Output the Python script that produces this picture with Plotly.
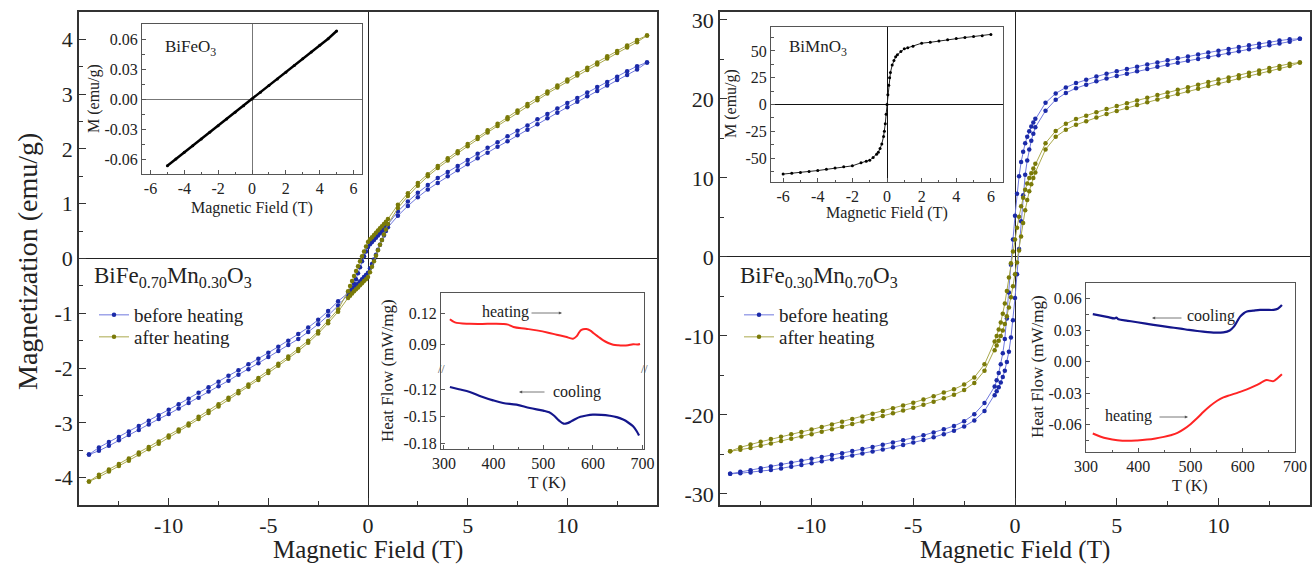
import plotly.graph_objects as go

W, H = 1315, 568
FONT = "Liberation Serif"


def fx(p):
    return p / W


def fy(p):
    return 1 - p / H


# ---------------- field sweep (T), descending branch order ----------------
H_DOWN = [14.0, 13.5, 13.0, 12.5, 12.0, 11.5, 11.0, 10.5, 10.0, 9.5, 9.0, 8.5, 8.0, 7.5,
          7.0, 6.5, 6.0, 5.5, 5.0, 4.5, 4.0, 3.5, 3.0, 2.5, 2.0, 1.5, 1.0,
          0.9, 0.8, 0.7, 0.6, 0.5, 0.4, 0.3, 0.2, 0.1, 0.0, -0.1, -0.2, -0.3, -0.4, -0.5,
          -0.6, -0.7, -0.8, -0.9,
          -1.0, -1.5, -2.0, -2.5, -3.0, -3.5, -4.0, -4.5, -5.0, -5.5, -6.0, -6.5, -7.0,
          -7.5, -8.0, -8.5, -9.0, -9.5, -10.0, -10.5, -11.0, -11.5, -12.0, -12.5, -13.0,
          -13.5, -14.0]

# BiFe0.70Mn0.30O3 : magnetization on the descending (DOWN) and ascending (UP) branches,
# both listed at the fields of H_DOWN
L_BLUE_DOWN = [3.58, 3.51, 3.42, 3.32, 3.22, 3.13, 3.03, 2.93, 2.84, 2.74, 2.64, 2.54, 2.43, 2.33,
               2.23, 2.12, 2.02, 1.91, 1.80, 1.69, 1.58, 1.47, 1.34, 1.20, 1.04, 0.86, 0.62,
               0.58, 0.54, 0.50, 0.46, 0.42, 0.38, 0.34, 0.30, 0.26, 0.21, 0.13, 0.04, -0.05,
               -0.16, -0.27, -0.38, -0.46, -0.53, -0.59,
               -0.63, -0.78, -0.96, -1.12, -1.26, -1.38, -1.50, -1.61, -1.72, -1.83, -1.93,
               -2.04, -2.14, -2.25, -2.35, -2.45, -2.56, -2.66, -2.76, -2.86, -2.96, -3.06,
               -3.16, -3.26, -3.35, -3.45, -3.58]
L_BLUE_UP = [3.58, 3.45, 3.35, 3.26, 3.16, 3.06, 2.96, 2.86, 2.76, 2.66, 2.56, 2.45, 2.35, 2.25,
             2.14, 2.04, 1.93, 1.83, 1.72, 1.61, 1.50, 1.38, 1.26, 1.12, 0.96, 0.78, 0.57,
             0.50, 0.42, 0.34, 0.25, 0.16, 0.07, -0.02, -0.10, -0.18, -0.26, -0.30, -0.34, -0.38,
             -0.42, -0.46, -0.50, -0.54, -0.58, -0.62,
             -0.66, -0.86, -1.04, -1.20, -1.34, -1.47, -1.58, -1.69, -1.80, -1.91, -2.02,
             -2.12, -2.23, -2.33, -2.43, -2.54, -2.64, -2.74, -2.84, -2.93, -3.03, -3.13,
             -3.22, -3.32, -3.42, -3.51, -3.58]
L_OLIVE_DOWN = [4.07, 3.99, 3.89, 3.79, 3.69, 3.58, 3.48, 3.38, 3.27, 3.16, 3.05, 2.93, 2.82, 2.70,
                2.58, 2.46, 2.34, 2.22, 2.09, 1.96, 1.83, 1.69, 1.54, 1.38, 1.19, 0.98, 0.72,
                0.67, 0.63, 0.59, 0.55, 0.51, 0.47, 0.43, 0.39, 0.35, 0.30, 0.22, 0.13, 0.04,
                -0.05, -0.14, -0.23, -0.32, -0.41, -0.50,
                -0.60, -0.93, -1.14, -1.33, -1.50, -1.65, -1.79, -1.92, -2.05, -2.18, -2.30,
                -2.42, -2.54, -2.66, -2.78, -2.89, -3.01, -3.12, -3.23, -3.34, -3.44, -3.54,
                -3.65, -3.75, -3.85, -3.95, -4.07]
L_OLIVE_UP = [4.07, 3.95, 3.85, 3.75, 3.65, 3.54, 3.44, 3.34, 3.23, 3.12, 3.01, 2.89, 2.78, 2.66,
              2.54, 2.42, 2.30, 2.18, 2.05, 1.92, 1.79, 1.65, 1.50, 1.33, 1.14, 0.92, 0.63,
              0.53, 0.44, 0.34, 0.25, 0.15, 0.05, -0.05, -0.15, -0.25, -0.34, -0.38, -0.41, -0.45,
              -0.49, -0.53, -0.56, -0.60, -0.64, -0.68,
              -0.72, -0.97, -1.18, -1.37, -1.54, -1.69, -1.83, -1.96, -2.09, -2.22, -2.34,
              -2.46, -2.58, -2.70, -2.82, -2.93, -3.05, -3.16, -3.27, -3.38, -3.48, -3.58,
              -3.69, -3.79, -3.89, -3.99, -4.07]

# BiFe0.30Mn0.70O3
R_BLUE_DOWN = [27.60, 27.55, 27.38, 27.18, 26.98, 26.78, 26.56, 26.33, 26.10, 25.86, 25.62, 25.38,
               25.14, 24.88, 24.62, 24.36, 24.08, 23.80, 23.50, 23.18, 22.83, 22.44, 22.00, 21.45,
               20.70, 19.50, 17.50,
               17.0, 16.5, 15.9, 15.2, 14.4, 13.3, 12.0, 10.2, 8.0, 5.2, 2.2, -1.0, -4.5, -7.8,
               -10.4, -12.2, -13.6, -14.7, -15.6,
               -16.4, -18.5, -19.9, -20.8, -21.4, -21.82, -22.22, -22.58, -22.90, -23.20, -23.50,
               -23.78, -24.06, -24.32, -24.58, -24.84, -25.08, -25.32, -25.56, -25.80, -26.04,
               -26.28, -26.52, -26.76, -27.00, -27.20, -27.45]
R_BLUE_UP = [27.60, 27.25, 27.02, 26.78, 26.54, 26.28, 26.04, 25.79, 25.54, 25.30, 25.06, 24.82,
             24.58, 24.32, 24.06, 23.78, 23.50, 23.20, 22.90, 22.58, 22.22, 21.80, 21.36, 20.75,
             19.90, 18.50, 16.40,
             15.6, 14.7, 13.6, 12.2, 10.4, 7.8, 4.5, 1.0, -2.2, -5.2, -8.0, -10.2, -12.0, -13.3,
             -14.4, -15.2, -15.9, -16.5, -17.0,
             -17.5, -19.5, -20.7, -21.45, -22.0, -22.44, -22.83, -23.18, -23.50, -23.80, -24.08,
             -24.36, -24.62, -24.88, -25.14, -25.38, -25.62, -25.86, -26.10, -26.33, -26.56,
             -26.78, -26.98, -27.10, -27.28, -27.38, -27.45]
R_OLIVE_DOWN = [24.60, 24.45, 24.18, 23.90, 23.60, 23.30, 23.00, 22.72, 22.45, 22.13, 21.80, 21.48,
                21.15, 20.82, 20.50, 20.15, 19.80, 19.45, 19.10, 18.72, 18.32, 17.88, 17.45, 16.85,
                15.95, 14.40, 11.80,
                11.2, 10.6, 10.0, 9.3, 8.5, 7.5, 6.4, 5.1, 3.7, 2.2, 0.7, -0.8, -2.6, -4.3,
                -5.9, -7.2, -8.3, -9.2, -10.0,
                -10.7, -13.6, -15.25, -16.15, -16.75, -17.17, -17.63, -18.05, -18.45, -18.80,
                -19.15, -19.50, -19.85, -20.19, -20.53, -20.87, -21.20, -21.53, -21.85, -22.15,
                -22.45, -22.75, -23.05, -23.40, -23.75, -24.10, -24.60]
R_OLIVE_UP = [24.60, 24.15, 23.82, 23.50, 23.20, 22.90, 22.60, 22.28, 21.95, 21.63, 21.30, 20.96,
              20.62, 20.28, 19.92, 19.57, 19.22, 18.86, 18.48, 18.08, 17.65, 17.18, 16.72, 16.10,
              15.20, 13.60, 10.70,
              10.0, 9.2, 8.3, 7.2, 5.9, 4.3, 2.6, 0.8, -0.7, -2.2, -3.7, -5.1, -6.4, -7.5,
              -8.5, -9.3, -10.0, -10.6, -11.2,
              -11.8, -14.4, -15.95, -16.85, -17.45, -17.88, -18.32, -18.72, -19.10, -19.45,
              -19.80, -20.15, -20.50, -20.82, -21.15, -21.48, -21.80, -22.13, -22.45, -22.72,
              -23.00, -23.30, -23.60, -23.90, -24.18, -24.40, -24.60]

# parent compounds (insets)
BFO_H = [-5.0, -4.5, -4.0, -3.5, -3.0, -2.5, -2.0, -1.5, -1.0, -0.5, 0.0, 0.5, 1.0, 1.5, 2.0,
         2.5, 3.0, 3.5, 4.0, 4.5, 5.0]
BFO_M = [-0.0667, -0.0600, -0.0533, -0.0468, -0.0400, -0.0333, -0.0267, -0.0200, -0.0133,
         -0.0067, 0.0, 0.0067, 0.0134, 0.0201, 0.0268, 0.0336, 0.0403, 0.0470, 0.0537,
         0.0603, 0.0680]
BMO_H = [-6.0, -5.5, -5.0, -4.5, -4.0, -3.5, -3.0, -2.5, -2.0, -1.5, -1.2, -1.0, -0.8, -0.6,
         -0.5, -0.4, -0.3, -0.2, -0.15, -0.1, -0.05, 0.0, 0.05, 0.1, 0.15, 0.2, 0.3, 0.4, 0.5,
         0.6, 0.8, 1.0, 1.2, 1.5, 2.0, 2.5, 3.0, 3.5, 4.0, 4.5, 5.0, 5.5, 6.0]
BMO_M = [-65.0, -64.3, -63.5, -62.6, -61.7, -60.6, -59.4, -58.1, -57.3, -54.5, -53.0, -52.0,
         -49.5, -46.5, -44.5, -41.2, -36.8, -30.0, -25.0, -18.0, -9.0, 0.0, 9.0, 18.0, 25.0,
         30.0, 36.8, 41.2, 44.5, 46.5, 49.5, 52.0, 53.0, 54.5, 57.3, 58.1, 59.4, 60.6, 61.7,
         62.6, 63.5, 64.3, 65.5]

# DSC, x = 0.30 sample
HL_T = [312, 322, 352, 390, 419, 429, 440, 465, 487, 510, 527, 545, 560, 567, 572, 577, 587,
        595, 601, 611, 621, 631, 641, 651, 661, 671, 681, 690, 695]
HL_HF = [0.1140, 0.1110, 0.1096, 0.1095, 0.1094, 0.1088, 0.1065, 0.1048, 0.1032, 0.1010,
         0.0990, 0.0970, 0.0952, 0.0974, 0.1010, 0.1038, 0.1045, 0.1030, 0.1006, 0.0970,
         0.0935, 0.0910, 0.0893, 0.0887, 0.0885, 0.0888, 0.0898, 0.0895, 0.0900]
CL_T = [312, 330, 352, 375, 399, 419, 446, 473, 500, 512, 522, 532, 541, 549, 557, 565, 575,
        587, 600, 617, 634, 648, 661, 671, 681, 688, 693]
CL_HF = [-0.1170, -0.1195, -0.1226, -0.1275, -0.1319, -0.1348, -0.1367, -0.1404, -0.1433,
         -0.1452, -0.1490, -0.1545, -0.1578, -0.1572, -0.1550, -0.1525, -0.1502, -0.1487,
         -0.1478, -0.1480, -0.1490, -0.1505, -0.1533, -0.1565, -0.1608, -0.1660, -0.1710]

# DSC, x = 0.70 sample
CR_T = [313, 340, 355, 358, 362, 380, 398, 420, 443, 462, 481, 497, 513, 528, 544, 563, 575,
        583, 590, 595, 602, 608, 620, 633, 646, 659, 667, 675]
CR_HF = [0.0453, 0.0428, 0.0413, 0.0420, 0.0405, 0.0390, 0.0376, 0.0358, 0.0341, 0.0328,
         0.0315, 0.0303, 0.0293, 0.0285, 0.0277, 0.0280, 0.0298, 0.0334, 0.0390, 0.0430,
         0.0462, 0.0478, 0.0486, 0.0494, 0.0494, 0.0494, 0.0505, 0.0540]
HR_T = [313, 327, 341, 360, 379, 398, 417, 433, 449, 462, 475, 488, 500, 513, 525, 538, 551,
        563, 576, 592, 608, 620, 633, 640, 646, 652, 659, 667, 675]
HR_HF = [-0.0684, -0.0712, -0.0732, -0.0748, -0.0754, -0.0750, -0.0742, -0.0731, -0.0716,
         -0.0700, -0.0678, -0.0640, -0.0595, -0.0537, -0.0477, -0.0420, -0.0372, -0.0340,
         -0.0318, -0.0292, -0.0264, -0.0238, -0.0206, -0.0185, -0.0175, -0.0180, -0.0185,
         -0.0155, -0.0120]

# tick labels
MAIN_X_TICKS = [-10, -5, 0, 5, 10]
MAIN_X_TEXT = ["-10", "-5", "0", "5", "10"]
LEFT_Y_TICKS = [-4, -3, -2, -1, 0, 1, 2, 3, 4]
LEFT_Y_TEXT = ["-4", "-3", "-2", "-1", "0", "1", "2", "3", "4"]
RIGHT_Y_TICKS = [-30, -20, -10, 0, 10, 20, 30]
RIGHT_Y_TEXT = ["-30", "-20", "-10", "0", "10", "20", "30"]
INSET_H_TICKS = [-6, -4, -2, 0, 2, 4, 6]
INSET_H_TEXT = ["-6", "-4", "-2", "0", "2", "4", "6"]
BFO_Y_TICKS = [-0.06, -0.03, 0.0, 0.03, 0.06]
BFO_Y_TEXT = ["-0.06", "-0.03", "0.00", "0.03", "0.06"]
BMO_Y_TICKS = [-50, -25, 0, 25, 50]
BMO_Y_TEXT = ["-50", "-25", "0", "25", "50"]
T_TICKS = [300, 400, 500, 600, 700]
T_TEXT = ["300", "400", "500", "600", "700"]
HFL_UP_TICKS = [0.09, 0.12]
HFL_UP_TEXT = ["0.09", "0.12"]
HFL_LO_TICKS = [-0.18, -0.15, -0.12]
HFL_LO_TEXT = ["-0.18", "-0.15", "-0.12"]
HFR_TICKS = [-0.06, -0.03, 0.0, 0.03, 0.06]
HFR_TEXT = ["-0.06", "-0.03", "0.00", "0.03", "0.06"]

BLUE_DOT, BLUE_LINE = "#1b2aa8", "#6f78de"
OLIVE_DOT, OLIVE_LINE = "#7a7a08", "#aaa94c"
RED, NAVY = "#ff2424", "#14168c"

fig = go.Figure()


def loop(xa, ya, down, up, name, dot, line, legend):
    fig.add_trace(go.Scatter(
        x=H_DOWN + H_DOWN[::-1], y=down + up[::-1], xaxis=xa, yaxis=ya,
        mode="lines+markers", name=name, legend=legend,
        line=dict(color=line, width=1), marker=dict(color=dot, size=4.5)))


loop("x", "y", L_BLUE_DOWN, L_BLUE_UP, "before heating", BLUE_DOT, BLUE_LINE, "legend")
loop("x", "y", L_OLIVE_DOWN, L_OLIVE_UP, "after heating", OLIVE_DOT, OLIVE_LINE, "legend3")
loop("x2", "y2", R_BLUE_DOWN, R_BLUE_UP, "before heating", BLUE_DOT, BLUE_LINE, "legend2")
loop("x2", "y2", R_OLIVE_DOWN, R_OLIVE_UP, "after heating", OLIVE_DOT, OLIVE_LINE, "legend4")

fig.add_trace(go.Scatter(x=BFO_H, y=BFO_M, xaxis="x3", yaxis="y3", mode="lines+markers",
                         line=dict(color="black", width=2.5), marker=dict(color="black", size=3),
                         showlegend=False))
fig.add_trace(go.Scatter(x=BMO_H, y=BMO_M, xaxis="x4", yaxis="y4", mode="lines+markers",
                         line=dict(color="#222", width=1), marker=dict(color="black", size=3),
                         showlegend=False))
fig.add_trace(go.Scatter(x=HL_T, y=HL_HF, xaxis="x6", yaxis="y6", mode="lines",
                         line=dict(color=RED, width=2, shape="spline"), showlegend=False))
fig.add_trace(go.Scatter(x=CL_T, y=CL_HF, xaxis="x5", yaxis="y5", mode="lines",
                         line=dict(color=NAVY, width=2.2, shape="spline"), showlegend=False))
fig.add_trace(go.Scatter(x=CR_T, y=CR_HF, xaxis="x7", yaxis="y7", mode="lines",
                         line=dict(color=NAVY, width=2.2, shape="spline"), showlegend=False))
fig.add_trace(go.Scatter(x=HR_T, y=HR_HF, xaxis="x7", yaxis="y7", mode="lines",
                         line=dict(color=RED, width=2, shape="spline"), showlegend=False))


def main_axis(domain, rng, vals, text, minor_vals, anchor):
    return dict(domain=domain, range=rng, anchor=anchor, automargin=False,
                tickmode="array", tickvals=vals,
                ticktext=text, ticks="inside", ticklen=7, tickwidth=1.2, tickcolor="#333",
                minor=dict(tickmode="array", tickvals=minor_vals, ticks="inside", ticklen=4,
                           tickwidth=1, tickcolor="#333"),
                showline=True, linecolor="#333", linewidth=1.5, mirror=True, showgrid=False,
                zeroline=True, zerolinecolor="#222", zerolinewidth=1.3,
                tickfont=dict(family=FONT, size=22, color="#222"))


def inset_axis(domain, rng, vals, text, minor_vals, anchor, zero=False, zcolor="#777"):
    return dict(domain=domain, range=rng, anchor=anchor, automargin=False,
                tickmode="array", tickvals=vals,
                ticktext=text, ticks="inside", ticklen=4, tickwidth=1, tickcolor="#555",
                minor=dict(tickmode="array", tickvals=minor_vals, ticks="inside", ticklen=2.5,
                           tickwidth=1, tickcolor="#555"),
                showline=True, linecolor="#555", linewidth=1, mirror=True, showgrid=False,
                zeroline=zero, zerolinecolor=zcolor, zerolinewidth=1,
                tickfont=dict(family=FONT, size=16, color="#222"))


def legend_box(x_px, top_px):
    return dict(x=fx(x_px), y=fy(top_px), xanchor="left", yanchor="top",
                bgcolor="rgba(0,0,0,0)", font=dict(family=FONT, size=19, color="#222"),
                itemwidth=30, tracegroupgap=0)


MINOR_MAIN_X = [-12.5, -7.5, -2.5, 2.5, 7.5, 12.5]
layout = dict(
    width=W, height=H, autosize=False,
    margin=dict(l=0, r=0, t=0, b=0, pad=0, autoexpand=False),
    paper_bgcolor="white", plot_bgcolor="white",
    font=dict(family=FONT, color="#222"),
    xaxis=main_axis([fx(79), fx(657)], [-14.5, 14.5], MAIN_X_TICKS, MAIN_X_TEXT, MINOR_MAIN_X, "y"),
    yaxis=main_axis([fy(505), fy(12)], [-4.5, 4.5], LEFT_Y_TICKS, LEFT_Y_TEXT,
                    [-3.5, -2.5, -1.5, -0.5, 0.5, 1.5, 2.5, 3.5], "x"),
    xaxis2=main_axis([fx(720), fx(1310)], [-14.5, 14.5], MAIN_X_TICKS, MAIN_X_TEXT, MINOR_MAIN_X, "y2"),
    yaxis2=main_axis([fy(505), fy(12)], [-31.4, 31.0], RIGHT_Y_TICKS, RIGHT_Y_TEXT,
                     [-25, -15, -5, 5, 15, 25], "x2"),
    xaxis3=inset_axis([fx(142), fx(362)], [-6.5, 6.5], INSET_H_TICKS, INSET_H_TEXT,
                      [-5, -3, -1, 1, 3, 5], "y3", zero=True),
    yaxis3=inset_axis([fy(174), fy(24)], [-0.075, 0.075], BFO_Y_TICKS, BFO_Y_TEXT,
                      [-0.045, -0.015, 0.015, 0.045], "x3", zero=True),
    xaxis4=inset_axis([fx(771), fx(1003)], [-6.7, 6.7], INSET_H_TICKS, INSET_H_TEXT,
                      [-5, -3, -1, 1, 3, 5], "y4", zero=True, zcolor="#111"),
    yaxis4=inset_axis([fy(182), fy(27)], [-72.4, 72.4], BMO_Y_TICKS, BMO_Y_TEXT,
                      [-62.5, -37.5, -12.5, 12.5, 37.5, 62.5], "x4", zero=True, zcolor="#111"),
    xaxis5=inset_axis([fx(441), fx(644)], [294, 703], T_TICKS, T_TEXT, [350, 450, 550, 650], "y5"),
    yaxis5=inset_axis([fy(449), fy(369)], [-0.186, -0.097], HFL_LO_TICKS, HFL_LO_TEXT, [], "x5"),
    xaxis6=dict(domain=[fx(441), fx(644)], range=[294, 703], anchor="y6", side="top",
                automargin=False, showline=True, linecolor="#555", linewidth=1,
                showticklabels=False, ticks="", showgrid=False, zeroline=False),
    yaxis6=inset_axis([fy(369), fy(293)], [0.0658, 0.1394], HFL_UP_TICKS, HFL_UP_TEXT, [], "x6"),
    xaxis7=inset_axis([fx(1086), fx(1295)], [300, 700], T_TICKS, T_TEXT, [350, 450, 550, 650], "y7"),
    yaxis7=inset_axis([fy(452), fy(283)], [-0.086, 0.075], HFR_TICKS, HFR_TEXT,
                      [-0.075, -0.045, -0.015, 0.015, 0.045], "x7"),
    legend=legend_box(94, 296),
    legend3=legend_box(94, 318),
    legend2=legend_box(739, 296),
    legend4=legend_box(739, 318),
)
fig.update_layout(**layout)


def label(text, x, y, size, angle=0, xanchor="center", yanchor="middle", color="#222"):
    fig.add_annotation(text=text, x=fx(x), y=fy(y), xref="paper", yref="paper",
                       showarrow=False, textangle=angle, xanchor=xanchor, yanchor=yanchor,
                       font=dict(family=FONT, size=size, color=color))


# main axis titles
label("Magnetization (emu/g)", 28, 262, 28, angle=-90)
label("Magnetic Field (T)", 368, 550, 25)
label("Magnetic Field (T)", 1015, 550, 25)
label("BiFe<sub>0.70</sub>Mn<sub>0.30</sub>O<sub>3</sub>", 92, 277, 23, xanchor="left")
label("BiFe<sub>0.30</sub>Mn<sub>0.70</sub>O<sub>3</sub>", 738, 277, 23, xanchor="left")

# inset titles
label("M (emu/g)", 94, 99, 16, angle=-90)
label("Magnetic Field (T)", 252, 208, 16)
label("BiFeO<sub>3</sub>", 163, 48, 17, xanchor="left")
label("M (emu/g)", 731, 104, 16, angle=-90)
label("Magnetic Field (T)", 887, 213, 16)
label("BiMnO<sub>3</sub>", 787, 48, 17, xanchor="left")
label("Heat Flow (mW/mg)", 387, 371, 17, angle=-90)
label("T (K)", 547, 482, 17)
label("Heat Flow (mW/mg)", 1037, 367, 17, angle=-90)
label("T (K)", 1190, 486, 16)
label("heating", 505, 312, 16)
label("cooling", 577, 392, 16)
label("cooling", 1211, 316, 16)
label("heating", 1128, 416, 16)
# axis-break marks
label("//", 441, 369, 12, color="#555")
label("//", 644, 369, 12, color="#555")


def arrow(x_head, y, x_tail):
    fig.add_annotation(x=fx(x_head), y=fy(y), xref="paper", yref="paper", ax=x_tail - x_head,
                       ay=0, axref="pixel", ayref="pixel", showarrow=True, arrowhead=2,
                       arrowsize=0.8, arrowwidth=0.8, arrowcolor="#555", text="")


arrow(562, 313, 530)
arrow(519, 392, 546)
arrow(1152, 318, 1183)
arrow(1188, 417, 1158)

fig.write_html("out.html")
